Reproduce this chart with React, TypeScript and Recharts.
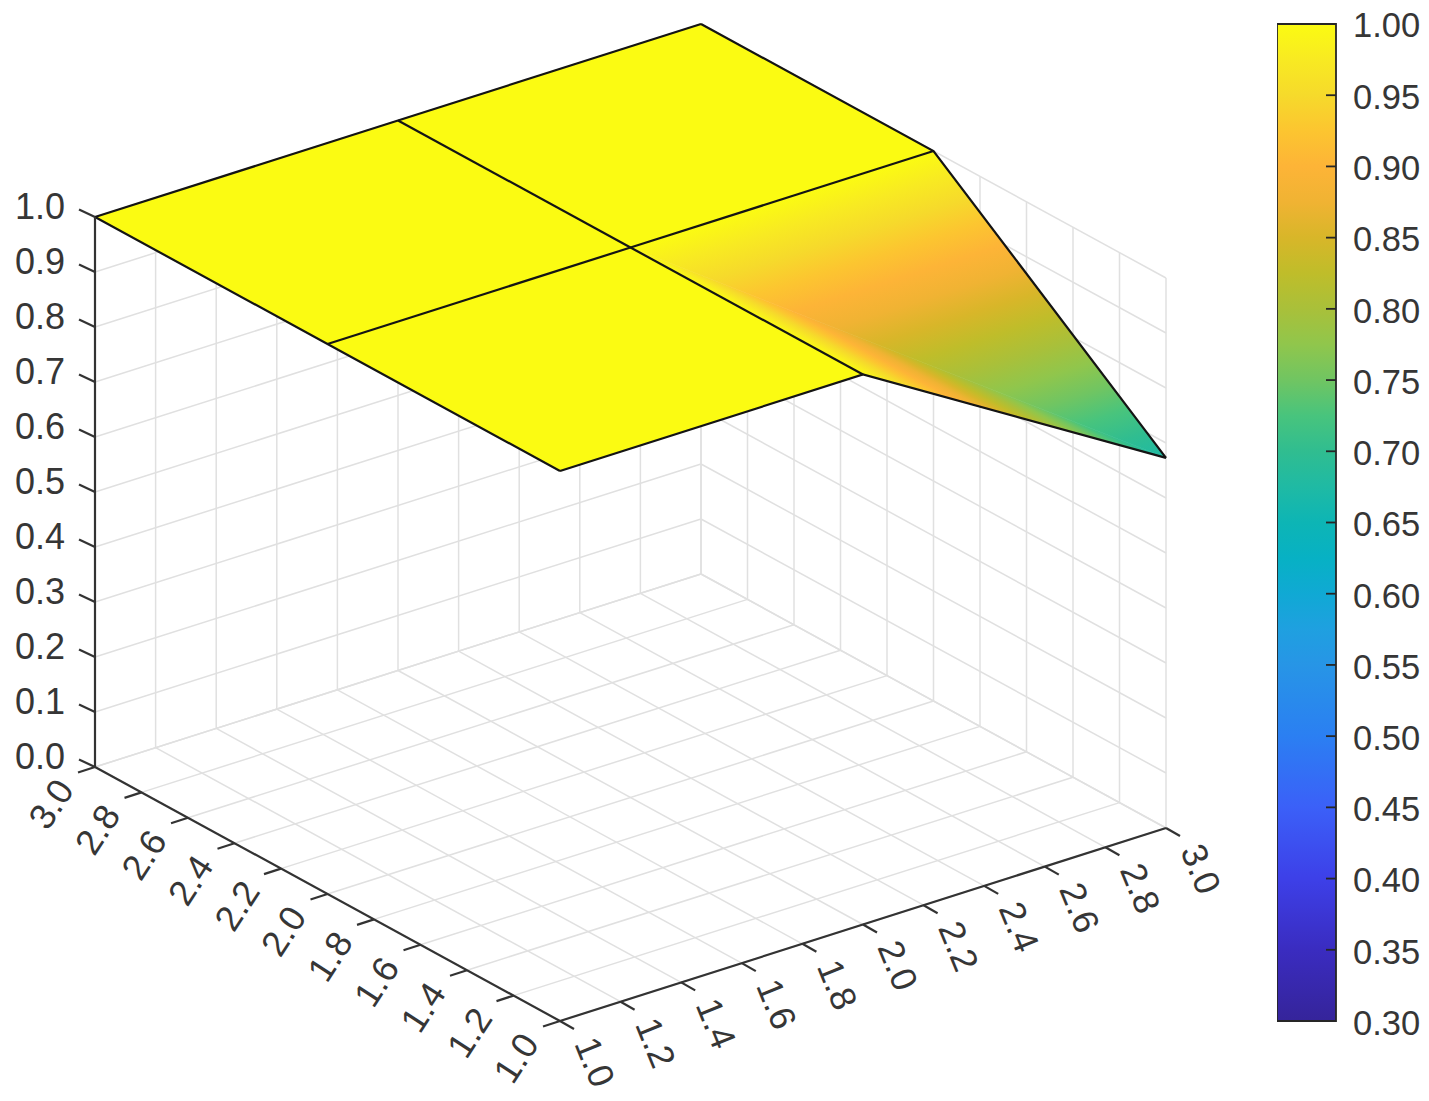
import React from 'react';
import { ScatterChart, Scatter, XAxis, YAxis, ReferenceArea } from 'recharts';

// ---- data ----
const surfaceX = [1, 2, 3];
const surfaceY = [1, 2, 3];
// surfaceZ[yIndex][xIndex]
const surfaceZ = [
  [1, 1, 0.673],
  [1, 1, 1],
  [1, 1, 1],
];
const xTicks = [1, 1.2, 1.4, 1.6, 1.8, 2, 2.2, 2.4, 2.6, 2.8, 3];
const yTicks = [1, 1.2, 1.4, 1.6, 1.8, 2, 2.2, 2.4, 2.6, 2.8, 3];
const zTicks = [0, 0.1, 0.2, 0.3, 0.4, 0.5, 0.6, 0.7, 0.8, 0.9, 1];
const colorbarTicks = [0.3, 0.35, 0.4, 0.45, 0.5, 0.55, 0.6, 0.65, 0.7, 0.75, 0.8, 0.85, 0.9, 0.95, 1];
const colormapLevels = [0.3, 0.35, 0.4, 0.45, 0.5, 0.55, 0.575, 0.6, 0.625, 0.65, 0.675, 0.7, 0.725, 0.75, 0.775, 0.8, 0.825, 0.85, 0.875, 0.9, 0.925, 0.95, 0.975, 1];
const colormapColors = ['#35249a', '#3a2cc0', '#3d40e8', '#3b60f8', '#2b7ff2', '#2795e6', '#1fa0e0', '#10a9d4', '#07b1c4', '#0db5b5', '#1fbaa4', '#30bd90', '#48c47d', '#70c562', '#90c64c', '#a9c03a', '#bfbd2a', '#d8b629', '#f0b333', '#fdb437', '#fcc530', '#f6da2b', '#f8ea22', '#fbfb12'];

// ---- view of the box ----
const W = 1429;
const H = 1101;
const project = (x: number, y: number, z: number) => ({
  px: 560 + ((x - 1) / 2) * 606 + ((y - 1) / 2) * -465,
  py: 1021 + ((x - 1) / 2) * -193 + ((y - 1) / 2) * -254 - z * 550,
});

const hex = (c: string) => [1, 3, 5].map((i) => parseInt(c.slice(i, i + 2), 16));
const colorAt = (z: number) => {
  for (let i = 1; i < colormapLevels.length; i++) {
    if (z <= colormapLevels[i]) {
      const t = (z - colormapLevels[i - 1]) / (colormapLevels[i] - colormapLevels[i - 1]);
      const a = hex(colormapColors[i - 1]);
      const b = hex(colormapColors[i]);
      return `rgb(${a.map((v, k) => Math.round(v + (b[k] - v) * t)).join(',')})`;
    }
  }
  return colormapColors[colormapColors.length - 1];
};

type V = { x: number; y: number; z: number };
const facets: { anchor: any; verts: any[]; id: string; shaded?: any }[] = [];
surfaceY.slice(0, -1).forEach((_, j) => {
  surfaceX.slice(0, -1).forEach((_, i) => {
    const v = (a: number, b: number): V => ({ x: surfaceX[a], y: surfaceY[b], z: surfaceZ[b][a] });
    const q = [v(i, j), v(i + 1, j), v(i + 1, j + 1), v(i, j + 1)];
    const flat = q.every((p) => p.z === q[0].z);
    const groups = flat ? [q] : [[q[0], q[1], q[3]], [q[1], q[2], q[3]]];
    groups.forEach((g, k) => {
      const pts = g.map((p) => project(p.x, p.y, p.z));
      const id = `facet-${i}-${j}-${k}`;
      let shaded;
      if (!flat) {
        const order = g.map((p, n) => n).sort((a, b) => g[a].z - g[b].z);
        const low = pts[order[0]];
        const a = pts[order[1]];
        const b = pts[order[2]];
        const ex = b.px - a.px;
        const ey = b.py - a.py;
        const u = ((low.px - a.px) * ex + (low.py - a.py) * ey) / (ex * ex + ey * ey);
        const zHi = g[order[2]].z;
        const zLo = g[order[0]].z;
        const levels = [zLo, ...colormapLevels.filter((l) => l > zLo && l < zHi), zHi];
        shaded = {
          x1: a.px + u * ex,
          y1: a.py + u * ey,
          x2: low.px,
          y2: low.py,
          stops: levels.map((l) => ({ offset: (zHi - l) / (zHi - zLo), color: colorAt(l) })).reverse(),
        };
      }
      facets.push({ anchor: pts[0], verts: pts, id, shaded });
    });
  });
});

const seg = (a: number[], b: number[]) => [project(a[0], a[1], a[2]), project(b[0], b[1], b[2])];
const gridSegments = [
  ...xTicks.map((x) => seg([x, 3, 0], [x, 3, 1])),
  ...xTicks.map((x) => seg([x, 3, 0], [x, 1, 0])),
  ...yTicks.map((y) => seg([3, y, 0], [3, y, 1])),
  ...yTicks.map((y) => seg([3, y, 0], [1, y, 0])),
  ...zTicks.map((z) => seg([1, 3, z], [3, 3, z])),
  ...zTicks.map((z) => seg([3, 3, z], [3, 1, z])),
];
const meshLines = [
  ...surfaceX.map((x, i) => surfaceY.map((y, j) => project(x, y, surfaceZ[j][i]))),
  ...surfaceY.map((y, j) => surfaceX.map((x, i) => project(x, y, surfaceZ[j][i]))),
];
const axisLines = [seg([1, 3, 0], [1, 3, 1]), seg([1, 3, 0], [1, 1, 0]), seg([1, 1, 0], [3, 1, 0])];

const shift = (p: { px: number; py: number }, dx: number, dy: number) => ({ px: p.px + dx, py: p.py + dy });
const tickMarks = [
  ...zTicks.map((z) => { const p = project(1, 3, z); return [p, shift(p, -16, -7.5)]; }),
  ...yTicks.map((y) => { const p = project(1, y, 0); return [p, shift(p, -17, 5.5)]; }),
  ...xTicks.map((x) => { const p = project(x, 1, 0); return [p, shift(p, 14, 8)]; }),
];

const zLabels = zTicks.map((z) => ({ ...project(1, 3, z), text: z.toFixed(1) }));
const yLabels = yTicks.map((y) => ({ ...project(1, y, 0), text: y.toFixed(1) }));
const xLabels = xTicks.map((x) => ({ ...project(x, 1, 0), text: x.toFixed(1) }));
const colorbarPoints = colorbarTicks.map((level) => ({ pos: 0, level }));

const FONT = '"Liberation Sans", Arial, sans-serif';
const TEXT = '#363636';

const NoPoint = () => null;

const Facet = (props: any) => {
  const { cx, cy, payload } = props;
  const { verts, id, shaded, anchor } = payload.facet;
  const points = verts.map((v: any) => `${cx + v.px - anchor.px},${cy + v.py - anchor.py}`).join(' ');
  if (!shaded) return <polygon points={points} fill={colorAt(1)} stroke={colorAt(1)} strokeWidth={0.6} />;
  const ox = cx - anchor.px;
  const oy = cy - anchor.py;
  return (
    <g>
      <defs>
        <linearGradient id={id} gradientUnits="userSpaceOnUse" x1={shaded.x1 + ox} y1={shaded.y1 + oy} x2={shaded.x2 + ox} y2={shaded.y2 + oy}>
          {shaded.stops.map((s: any, i: number) => (
            <stop key={i} offset={s.offset} stopColor={s.color} />
          ))}
        </linearGradient>
      </defs>
      <polygon points={points} fill={`url(#${id})`} stroke={`url(#${id})`} strokeWidth={0.6} />
    </g>
  );
};

const labelShape = (dx: number, dy: number, rotate: number, anchor: string) => (props: any) => {
  const x = props.cx + dx;
  const y = props.cy + dy;
  return (
    <text
      x={x}
      y={y}
      textAnchor={anchor as any}
      dominantBaseline="central"
      fontFamily={FONT}
      fontSize={36}
      fill={TEXT}
      transform={rotate ? `rotate(${rotate} ${x} ${y})` : undefined}
    >
      {props.payload.text}
    </text>
  );
};

const segmentSeries = (lines: any[], name: string, stroke: string, strokeWidth: number) =>
  lines.map((data, i) => (
    <Scatter
      key={`${name}-${i}`}
      data={data}
      line={{ stroke, strokeWidth }}
      shape={NoPoint}
      legendType="none"
      isAnimationActive={false}
    />
  ));

const ColorbarTick = (props: any) => {
  const { y, payload } = props;
  const level = Number(payload.value);
  return (
    <g>
      {level > 0.3 && level < 1 ? <line x1={49} x2={59} y1={y} y2={y} stroke="#262626" strokeWidth={1.8} /> : null}
      <text x={76} y={y + (level === 1 ? 1 : 1.8)} dominantBaseline="central" fontFamily={FONT} fontSize={34.5} fill={TEXT}>
        {level.toFixed(2)}
      </text>
    </g>
  );
};

export default function App() {
  return (
    <div style={{ position: 'absolute', left: 0, top: 0, width: W, height: H, background: '#fff', overflow: 'hidden' }}>
      <div style={{ position: 'absolute', left: 0, top: 0 }}>
        <ScatterChart width={W} height={H} margin={{ top: 0, right: 0, bottom: 0, left: 0 }}>
          <XAxis type="number" dataKey="px" domain={[0, W]} hide />
          <YAxis type="number" dataKey="py" domain={[0, H]} reversed hide />
          {segmentSeries(gridSegments, 'grid', '#e0e0e0', 1.5)}
          {facets.map((f) => (
            <Scatter
              key={f.id}
              data={[{ ...f.anchor, facet: f }]}
              shape={Facet}
              legendType="none"
              isAnimationActive={false}
            />
          ))}
          {segmentSeries(meshLines, 'mesh', '#141414', 2.2)}
          {segmentSeries(axisLines, 'axis', '#333333', 2.2)}
          {segmentSeries(tickMarks, 'tick', '#333333', 2.2)}
          <Scatter data={zLabels} shape={labelShape(-30, -10.5, 0, 'end')} legendType="none" isAnimationActive={false} />
          <Scatter data={yLabels} shape={labelShape(-44, 37, -57, 'middle')} legendType="none" isAnimationActive={false} />
          <Scatter data={xLabels} shape={labelShape(35, 41, 68, 'middle')} legendType="none" isAnimationActive={false} />
        </ScatterChart>
      </div>
      <div style={{ position: 'absolute', left: 1277, top: 0 }}>
        <ScatterChart width={152} height={H} margin={{ top: 24, right: 0, bottom: 80, left: 0 }}>
          <defs>
            <linearGradient id="colorbar" x1="0" y1="1" x2="0" y2="0">
              {colormapLevels.map((l, i) => (
                <stop key={l} offset={(l - 0.3) / 0.7} stopColor={colormapColors[i]} />
              ))}
            </linearGradient>
          </defs>
          <XAxis type="number" dataKey="pos" domain={[0, 1]} hide />
          <YAxis
            orientation="right"
            type="number"
            dataKey="level"
            domain={[0.3, 1]}
            ticks={colorbarTicks}
            interval={0}
            width={93}
            axisLine={false}
            tickLine={false}
            tick={ColorbarTick}
          />
          <ReferenceArea x1={0} x2={1} y1={0.3} y2={1} fill="url(#colorbar)" fillOpacity={1} stroke="#262626" strokeWidth={1.8} />
          <Scatter data={colorbarPoints} shape={NoPoint} legendType="none" isAnimationActive={false} />
        </ScatterChart>
      </div>
    </div>
  );
}
